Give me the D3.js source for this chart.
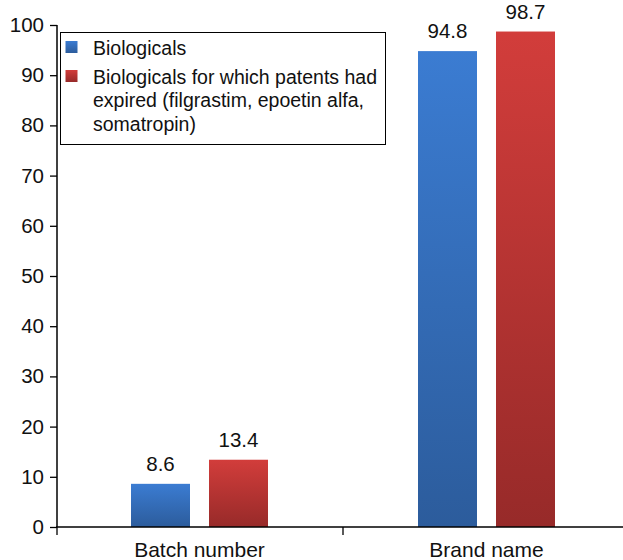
<!DOCTYPE html>
<html><head><meta charset="utf-8">
<script src="https://cdn.jsdelivr.net/npm/d3@7"></script>
<style>body{margin:0;background:#fff}svg{display:block;font-family:"Liberation Sans",Arial,Helvetica,sans-serif}</style>
</head><body><svg id="c" width="623" height="560"></svg>
<script>
const categories = ["Batch number", "Brand name"];
const seriesNames = ["Biologicals", "Biologicals for which patents had expired (filgrastim, epoetin alfa, somatropin)"];
const biologicals = [8.6, 94.8];
const expired = [13.4, 98.7];
const yTicks = [0, 10, 20, 30, 40, 50, 60, 70, 80, 90, 100];

const svg = d3.select("#c");
const defs = svg.append("defs");
const grads = [["gBlue", "#3b7cd2", "#2c5c9c"], ["gRed", "#d23d3b", "#972a29"]];
grads.forEach(([id, top, bot]) => {
  const g = defs.append("linearGradient").attr("id", id).attr("x1", 0).attr("y1", 0).attr("x2", 0).attr("y2", 1);
  g.append("stop").attr("offset", "0%").attr("stop-color", top);
  g.append("stop").attr("offset", "100%").attr("stop-color", bot);
});

const x0 = 56, x1 = 630, yTop = 25, yBot = 527;
const y = d3.scaleLinear().domain([0, 100]).range([yBot, yTop]);
const xb = d3.scaleBand().domain(categories).range([x0, x1]);
const inner = d3.scaleBand().domain([0, 1]).range([xb.bandwidth()/2 - 68.5, xb.bandwidth()/2 + 68.5]).paddingInner(19/78);

// Y axis
const ya = svg.append("g").attr("transform", `translate(${x0+1},0)`)
  .call(d3.axisLeft(y).tickValues(yTicks).tickSize(7).tickPadding(6));
ya.select(".domain").attr("stroke", "#000").attr("stroke-width", 1.5).attr("d", `M0,${yTop}V${yBot}`);
ya.selectAll(".tick line").attr("stroke", "#000").attr("stroke-width", 1.3);
ya.selectAll(".tick text").attr("font-size", 20.5).attr("fill", "#111").attr("font-family", "Liberation Sans, Arial, sans-serif");

// bars
const data = [biologicals, expired];
categories.forEach((c, i) => {
  data.forEach((s, j) => {
    const bx = xb(c) + inner(j);
    svg.append("rect").attr("x", bx).attr("y", y(s[i])).attr("width", inner.bandwidth())
      .attr("height", y(0) - y(s[i])).attr("fill", j === 0 ? "url(#gBlue)" : "url(#gRed)");
    svg.append("text").attr("x", bx + inner.bandwidth()/2).attr("y", y(s[i]) - 13)
      .attr("text-anchor", "middle").attr("font-size", 20.5).attr("fill", "#111").text(s[i].toFixed(1));
  });
});

// X axis
const xa = svg.append("g").attr("transform", `translate(0,${yBot})`);
xa.append("line").attr("x1", x0).attr("x2", x1).attr("stroke", "#000").attr("stroke-width", 1.5);
[x0 + 1, xb(categories[1])].forEach(t => xa.append("line").attr("x1", t).attr("x2", t).attr("y1", 0).attr("y2", 8).attr("stroke", "#000").attr("stroke-width", 1.3));
categories.forEach(c => xa.append("text").attr("x", xb(c) + xb.bandwidth()/2).attr("y", 30)
  .attr("text-anchor", "middle").attr("font-size", 21).attr("fill", "#111").text(c));

// legend
const lg = svg.append("g");
lg.append("rect").attr("x", 60.5).attr("y", 32.5).attr("width", 325).attr("height", 112).attr("fill", "#fff").attr("stroke", "#000").attr("stroke-width", 1);
const lines = [["Biologicals"], ["Biologicals for which patents had", "expired (filgrastim, epoetin alfa,", "somatropin)"]];
const starts = [47.5, 76.5];
lines.forEach((ls, j) => {
  lg.append("rect").attr("x", 65.5).attr("y", starts[j] - 6.5).attr("width", 12).attr("height", 12)
    .attr("fill", j === 0 ? "url(#gBlue)" : "url(#gRed)");
  ls.forEach((t, k) => lg.append("text").attr("x", 93).attr("y", starts[j] + 7 + k * 23.5)
    .attr("font-size", 19.5).attr("fill", "#111").text(t));
});
</script></body></html>
